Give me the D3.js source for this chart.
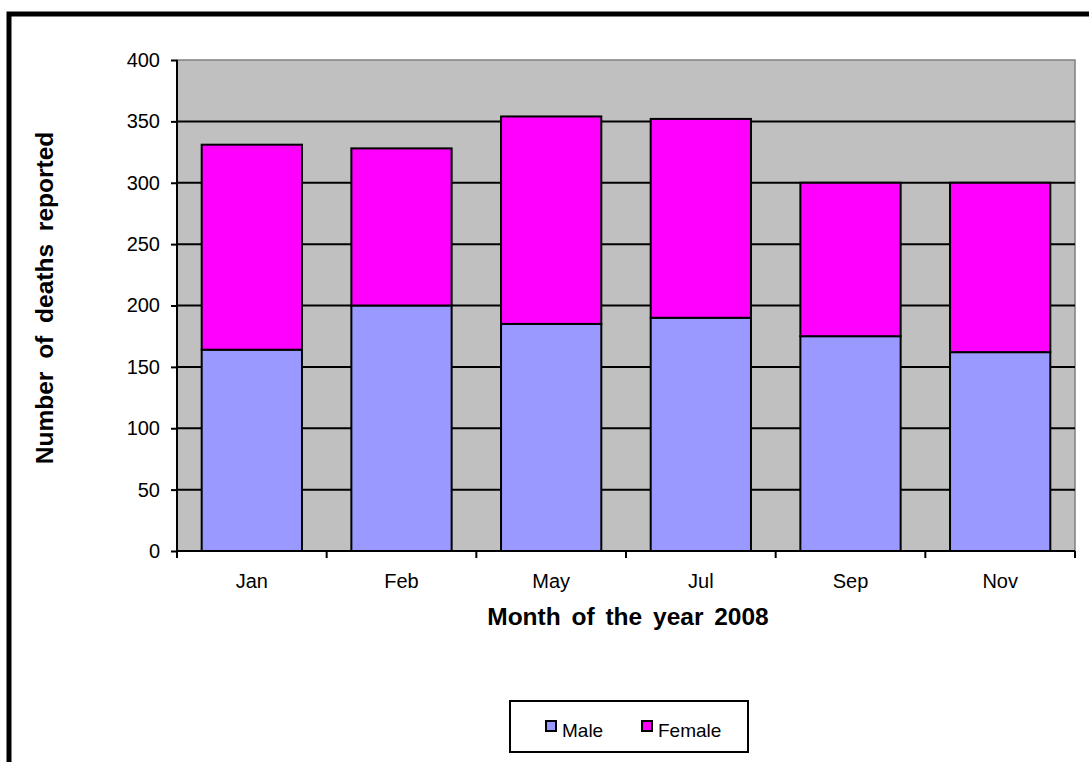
<!DOCTYPE html>
<html><head><meta charset="utf-8">
<script src="https://cdn.jsdelivr.net/npm/d3@7"></script>
<style>body{margin:0;background:#fff}svg{display:block}text{font-family:"Liberation Sans",Arial,sans-serif}</style>
</head><body>
<script>
const categories = ["Jan","Feb","May","Jul","Sep","Nov"];
const male = [164,200,185,190,175,162];
const female = [167,128,169,162,125,138];
const seriesNames = ["Male","Female"];
const yTicks = [0,50,100,150,200,250,300,350,400];

const W=1089,H=762;
const FONT="Liberation Sans, Arial, sans-serif";
const svg=d3.select("body").append("svg").attr("width",W).attr("height",H);
svg.append("rect").attr("x",0).attr("y",0).attr("width",W).attr("height",H).attr("fill","#fff");
// outer chart border
svg.append("rect").attr("x",9).attr("y",14).attr("width",W+20).attr("height",H+20)
  .attr("fill","#fff").attr("stroke","#000").attr("stroke-width",5);

const L=177,R=1075,T=60,B=551;
const x=d3.scaleBand().domain(categories).range([L,R]).paddingInner(0.33).paddingOuter(0.165);
const y=d3.scaleLinear().domain([0,400]).range([B,T]);

svg.append("rect").attr("x",L).attr("y",T).attr("width",R-L).attr("height",B-T)
  .attr("fill","#c0c0c0").attr("stroke","#808080").attr("stroke-width",1.5);

// gridlines
svg.append("g").selectAll("line").data(yTicks.filter(d=>d>0&&d<400)).join("line")
  .attr("x1",L).attr("x2",R).attr("y1",d=>y(d)).attr("y2",d=>y(d))
  .attr("stroke","#000").attr("stroke-width",2);

const stackData=categories.map((c,i)=>({cat:c,Male:male[i],Female:female[i]}));
const stacked=d3.stack().keys(seriesNames)(stackData);
const colors={Male:"#9999ff",Female:"#ff00ff"};
svg.append("g").selectAll("g").data(stacked).join("g").attr("fill",d=>colors[d.key])
  .selectAll("rect").data(d=>d).join("rect")
  .attr("x",d=>x(d.data.cat)).attr("width",x.bandwidth())
  .attr("y",d=>y(d[1])).attr("height",d=>y(d[0])-y(d[1]))
  .attr("stroke","#000").attr("stroke-width",2);

// y axis
const ya=svg.append("g").attr("transform",`translate(${L},0)`)
  .call(d3.axisLeft(y).tickValues(yTicks).tickSize(6).tickPadding(11));
ya.attr("font-size",20).attr("font-family",FONT);
ya.select(".domain").attr("stroke","#000").attr("stroke-width",2).attr("d",`M0,${T}V${B}`);
ya.selectAll(".tick line").attr("stroke","#000").attr("stroke-width",2);
ya.selectAll("text").attr("fill","#000");

// x axis
const xa=svg.append("g").attr("transform",`translate(0,${B})`)
  .call(d3.axisBottom(x).tickSize(0).tickPadding(23));
xa.attr("font-size",20).attr("font-family",FONT);
xa.select(".domain").attr("stroke","#000").attr("stroke-width",2).attr("d",`M${L},0H${R}`);
xa.selectAll("text").attr("fill","#000");
const bounds=d3.range(categories.length+1).map(i=>L+i*(R-L)/categories.length);
svg.append("g").selectAll("line").data(bounds).join("line")
  .attr("x1",d=>d).attr("x2",d=>d).attr("y1",B).attr("y2",B+7)
  .attr("stroke","#000").attr("stroke-width",2);

// axis titles
svg.append("text").attr("x",(L+R)/2+2).attr("y",625).attr("text-anchor","middle")
  .attr("font-size",24.5).attr("font-weight","bold").attr("word-spacing",4).text("Month of the year 2008");
svg.append("text").attr("transform",`translate(53,${298}) rotate(-90)`).attr("text-anchor","middle")
  .attr("font-size",24.5).attr("font-weight","bold").attr("word-spacing",6).text("Number of deaths reported");

// legend
const lg=svg.append("g");
lg.append("rect").attr("x",510).attr("y",701).attr("width",238).attr("height",51)
  .attr("fill","#fff").attr("stroke","#000").attr("stroke-width",2);
const items=[{n:"Male",x:546},{n:"Female",x:642}];
items.forEach(it=>{
  lg.append("rect").attr("x",it.x).attr("y",721).attr("width",10).attr("height",10)
    .attr("fill",colors[it.n]).attr("stroke","#000").attr("stroke-width",2);
  lg.append("text").attr("x",it.x+16).attr("y",737).attr("font-size",19).text(it.n);
});
</script>
</body></html>
